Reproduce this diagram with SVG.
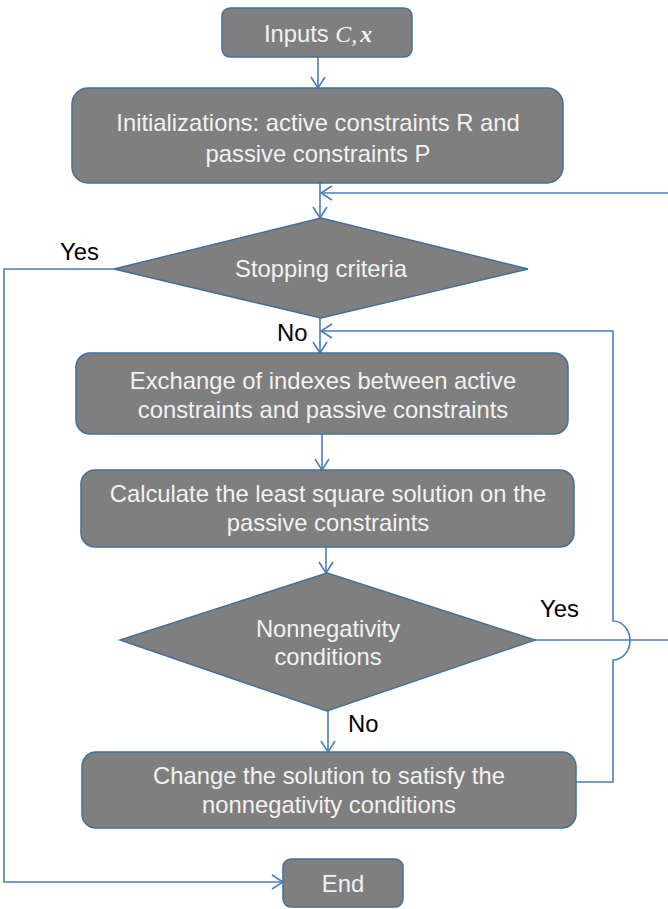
<svg xmlns="http://www.w3.org/2000/svg" width="668" height="909" viewBox="0 0 668 909">
<defs>
<marker id="arr" markerUnits="userSpaceOnUse" markerWidth="14" markerHeight="16" viewBox="0 0 14 16" refX="12" refY="8" orient="auto">
<path d="M1,1 L12,8 L1,15" fill="none" stroke="#4a7ebb" stroke-width="1.6"/>
</marker>
<style>
.box{fill:#7f7f7f;stroke:#41719c;stroke-width:1.5}
.t{font-family:"Liberation Sans",Arial,sans-serif;font-size:23.8px;fill:#f2f2f2;text-anchor:middle}
.lbl{font-family:"Liberation Sans",Arial,sans-serif;font-size:23.8px;fill:#000}
.c{fill:none;stroke:#4a7ebb;stroke-width:1.6}
.m{font-family:"Liberation Serif","Times New Roman",serif;font-style:italic}
</style>
</defs>
<g id="connectors">
<path class="c" d="M318,57 V88" marker-end="url(#arr)"/>
<path class="c" d="M320,183 V218" marker-end="url(#arr)"/>
<path class="c" d="M668,193 H321" marker-end="url(#arr)"/>
<path class="c" d="M114,269 H4 V882 H283" marker-end="url(#arr)"/>
<path class="c" d="M320,318 V353" marker-end="url(#arr)"/>
<path class="c" d="M576,782 H613 V660 A17,19.5 0 0 0 613,621 V331 H321" marker-end="url(#arr)"/>
<path class="c" d="M322,434 V470" marker-end="url(#arr)"/>
<path class="c" d="M326,547 V573" marker-end="url(#arr)"/>
<path class="c" d="M328,711 V752" marker-end="url(#arr)"/>
<path class="c" d="M535,640 H668"/>
<text class="lbl" x="60" y="260">Yes</text>
<text class="lbl" x="277" y="341">No</text>
<text class="lbl" x="540" y="617">Yes</text>
<text class="lbl" x="348" y="732">No</text>
</g>
<g id="inputs">
<rect class="box" x="222" y="8" width="190" height="49" rx="8"/>
<text class="t" x="318" y="42">Inputs <tspan class="m">C,</tspan><tspan class="m" font-weight="bold" dx="3">x</tspan></text>
</g>
<g id="init">
<rect class="box" x="72" y="88" width="491" height="95" rx="16"/>
<text class="t" x="318" y="131">Initializations: active constraints R and</text>
<text class="t" x="318" y="162">passive constraints P</text>
</g>
<g id="stopping">
<polygon class="box" points="321,218 528,269 321,318 114,269"/>
<text class="t" x="321" y="277">Stopping criteria</text>
</g>
<g id="exchange">
<rect class="box" x="76" y="353" width="492" height="81" rx="14"/>
<text class="t" x="323" y="389">Exchange of indexes between active</text>
<text class="t" x="323" y="418">constraints and passive constraints</text>
</g>
<g id="calc">
<rect class="box" x="81" y="470" width="493" height="77" rx="14"/>
<text class="t" x="328" y="502">Calculate the least square solution on the</text>
<text class="t" x="328" y="531">passive constraints</text>
</g>
<g id="nonneg">
<polygon class="box" points="327,573 535,640 327,711 120,640"/>
<text class="t" x="328" y="637">Nonnegativity</text>
<text class="t" x="328" y="665">conditions</text>
</g>
<g id="change">
<rect class="box" x="82" y="752" width="494" height="76" rx="14"/>
<text class="t" x="329" y="784">Change the solution to satisfy the</text>
<text class="t" x="329" y="813">nonnegativity conditions</text>
</g>
<g id="end">
<rect class="box" x="283" y="859" width="120" height="48" rx="8"/>
<text class="t" x="343" y="892">End</text>
</g>
</svg>
